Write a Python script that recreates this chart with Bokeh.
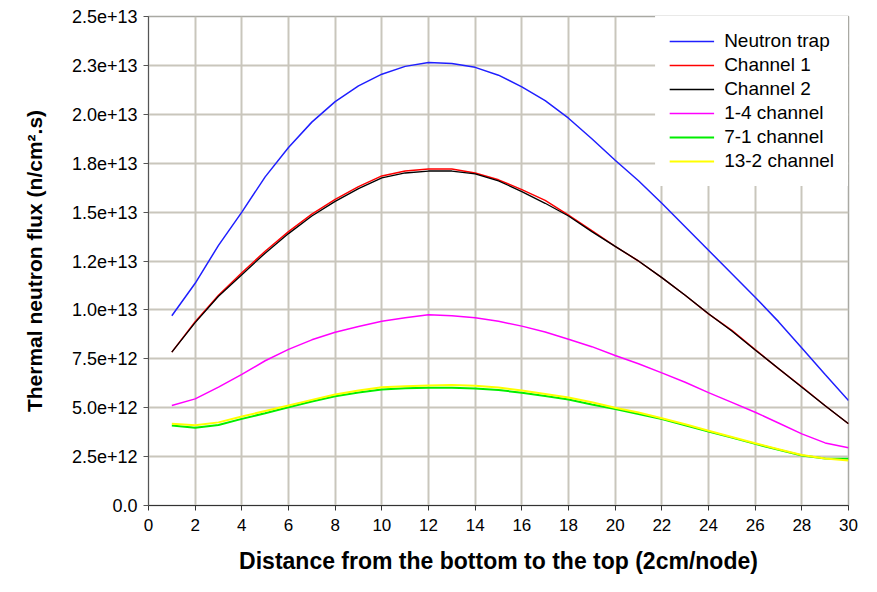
from bokeh.plotting import figure
from bokeh.models import Range1d, FixedTicker, Legend, LegendItem
from bokeh.embed import file_html
from bokeh.resources import INLINE

nodes = list(range(1, 31))

neutron_trap = [9.7e12, 1.136e13, 1.33e13, 1.50e13, 1.68e13, 1.83e13, 1.96e13, 2.065e13, 2.145e13, 2.205e13,
                2.245e13, 2.265e13, 2.26e13, 2.24e13, 2.20e13, 2.14e13, 2.07e13, 1.98e13, 1.875e13, 1.765e13,
                1.66e13, 1.545e13, 1.425e13, 1.305e13, 1.185e13, 1.065e13, 9.4e12, 8.05e12, 6.7e12, 5.37e12]
channel_1 = [7.84e12, 9.4e12, 1.075e13, 1.19e13, 1.30e13, 1.40e13, 1.49e13, 1.565e13, 1.63e13, 1.685e13,
             1.71e13, 1.72e13, 1.72e13, 1.70e13, 1.665e13, 1.615e13, 1.56e13, 1.485e13, 1.405e13, 1.325e13,
             1.25e13, 1.165e13, 1.075e13, 9.8e12, 8.95e12, 7.97e12, 7.0e12, 6.07e12, 5.1e12, 4.18e12]
channel_2 = [7.84e12, 9.35e12, 1.07e13, 1.18e13, 1.29e13, 1.39e13, 1.48e13, 1.555e13, 1.62e13, 1.675e13,
             1.70e13, 1.71e13, 1.71e13, 1.695e13, 1.66e13, 1.605e13, 1.545e13, 1.48e13, 1.40e13, 1.325e13,
             1.25e13, 1.165e13, 1.075e13, 9.8e12, 8.92e12, 7.95e12, 7.0e12, 6.05e12, 5.1e12, 4.18e12]
ch_1_4 = [5.11e12, 5.45e12, 6.05e12, 6.7e12, 7.4e12, 7.98e12, 8.47e12, 8.86e12, 9.15e12, 9.42e12,
          9.6e12, 9.75e12, 9.7e12, 9.6e12, 9.42e12, 9.17e12, 8.87e12, 8.5e12, 8.12e12, 7.67e12,
          7.25e12, 6.78e12, 6.3e12, 5.77e12, 5.27e12, 4.77e12, 4.22e12, 3.66e12, 3.2e12, 2.95e12]
ch_7_1 = [4.09e12, 3.97e12, 4.12e12, 4.43e12, 4.72e12, 5.02e12, 5.32e12, 5.59e12, 5.78e12, 5.93e12,
          5.99e12, 6.02e12, 6.02e12, 5.98e12, 5.9e12, 5.77e12, 5.6e12, 5.42e12, 5.16e12, 4.93e12,
          4.68e12, 4.42e12, 4.1e12, 3.78e12, 3.47e12, 3.15e12, 2.85e12, 2.56e12, 2.4e12, 2.39e12]
ch_13_2 = [4.18e12, 4.1e12, 4.25e12, 4.55e12, 4.83e12, 5.11e12, 5.4e12, 5.67e12, 5.88e12, 6.05e12,
           6.1e12, 6.13e12, 6.16e12, 6.12e12, 6.03e12, 5.88e12, 5.7e12, 5.52e12, 5.28e12, 5.0e12,
           4.75e12, 4.46e12, 4.15e12, 3.82e12, 3.5e12, 3.18e12, 2.88e12, 2.58e12, 2.4e12, 2.3e12]

series_names = ["Neutron trap", "Channel 1", "Channel 2", "1-4 channel", "7-1 channel", "13-2 channel"]

x_ticks = list(range(0, 31, 2))
y_ticks = [0, 2.5e12, 5.0e12, 7.5e12, 1.0e13, 1.25e13, 1.5e13, 1.75e13, 2.0e13, 2.25e13, 2.5e13]
y_tick_labels = ["0.0", "2.5e+12", "5.0e+12", "7.5e+12", "1.0e+13", "1.2e+13", "1.5e+13",
                 "1.8e+13", "2.0e+13", "2.3e+13", "2.5e+13"]

FONT = "Liberation Sans"
GRID = "#c9c6bc"

p = figure(width=861, height=576, output_backend="svg", toolbar_location=None,
           x_range=Range1d(0, 30), y_range=Range1d(0, 2.5e13),
           min_border_left=148, min_border_right=13, min_border_top=16, min_border_bottom=71)
p.background_fill_color = "white"
p.border_fill_color = "white"
p.outline_line_color = "#a9a9a3"
p.outline_line_width = 1.5

p.xaxis.ticker = FixedTicker(ticks=x_ticks)
p.yaxis.ticker = FixedTicker(ticks=y_ticks)
p.yaxis.major_label_overrides = {t: l for t, l in zip(y_ticks, y_tick_labels)}
p.xaxis.minor_tick_line_color = None
p.yaxis.minor_tick_line_color = None

for ax in (p.xaxis, p.yaxis):
    ax.major_tick_in = 0
    ax.major_tick_out = 5
    ax.major_label_text_font = FONT
    ax.major_label_text_color = "black"
    ax.axis_label_text_font = FONT
    ax.axis_label_text_font_style = "bold"
    ax.axis_label_text_color = "black"

p.xaxis.axis_line_color = "#333333"
p.xaxis.major_tick_line_color = "#333333"
p.yaxis.axis_line_color = "#555555"
p.yaxis.major_tick_line_color = "#555555"
p.xaxis.major_label_text_font_size = "17px"
p.yaxis.major_label_text_font_size = "18px"
p.xaxis.major_label_standoff = 8
p.yaxis.major_label_standoff = 6
p.xaxis.axis_label = "Distance from the bottom to the top (2cm/node)"
p.yaxis.axis_label = "Thermal neutron flux (n/cm\u00b2.s)"
p.xaxis.axis_label_text_font_size = "23px"
p.yaxis.axis_label_text_font_size = "21px"
p.xaxis.axis_label_standoff = 14
p.yaxis.axis_label_standoff = 23

p.xgrid.grid_line_color = GRID
p.ygrid.grid_line_color = GRID
p.xgrid.grid_line_width = 2
p.ygrid.grid_line_width = 2

colors = ["#1f1fff", "#ff0000", "#000000", "#ff00ff", "#00ee00", "#ffff00"]
widths = [1.5, 1.5, 1.3, 1.5, 2, 2]
data = [neutron_trap, channel_1, channel_2, ch_1_4, ch_7_1, ch_13_2]

items = []
for name, ys, c, w in zip(series_names, data, colors, widths):
    r = p.line(nodes, ys, line_color=c, line_width=w)
    items.append(LegendItem(label=name, renderers=[r]))

legend = Legend(items=items, location="top_right", margin=0, padding=13,
                border_line_color="white", border_line_width=1,
                background_fill_color="white", background_fill_alpha=1.0,
                label_text_font=FONT, label_text_font_size="19px", label_text_color="black",
                glyph_width=45, glyph_height=22, label_height=22, spacing=2, label_standoff=10)
p.add_layout(legend, "center")

open("out.html", "w").write(file_html(p, INLINE))
